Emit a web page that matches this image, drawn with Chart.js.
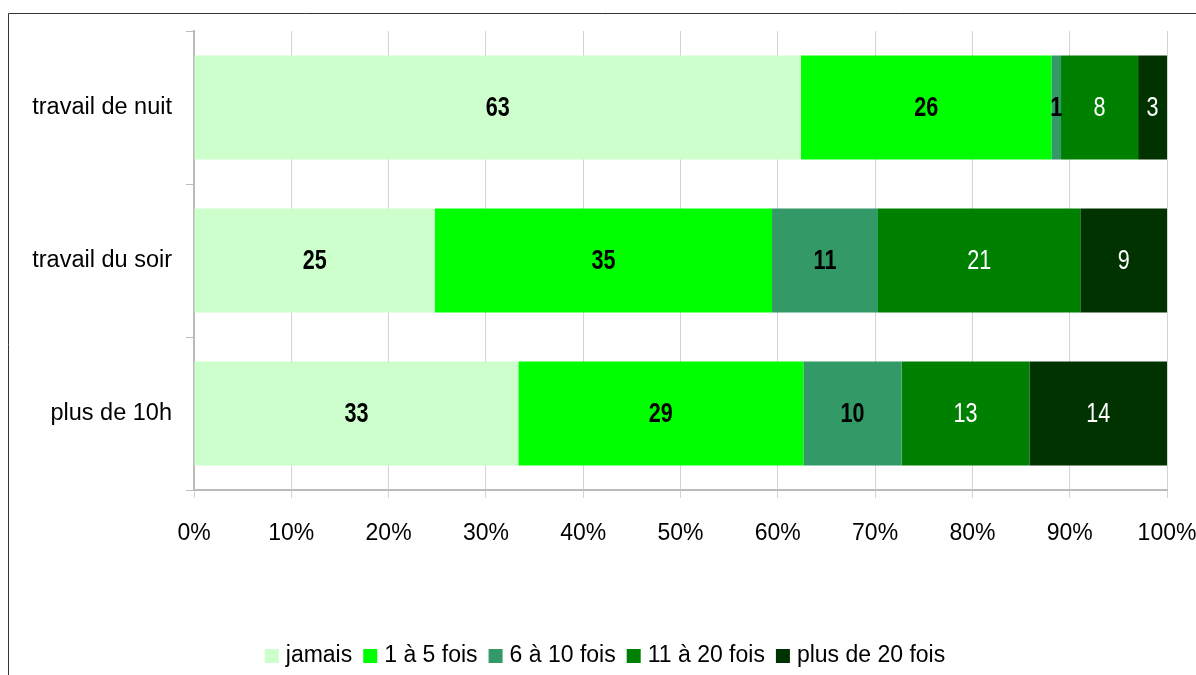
<!DOCTYPE html>
<html lang="fr">
<head>
    <meta charset="UTF-8">
    <title>Fréquence des horaires atypiques</title>
    <script src="https://cdn.jsdelivr.net/npm/chart.js"></script>
    <style>
        html, body { margin: 0; padding: 0; background: #fff; }
        #wrap { width: 1196px; height: 675px; position: relative; overflow: hidden; }
    </style>
</head>
<body>
<div id="wrap">
    <canvas id="chart" width="1196" height="675"></canvas>
</div>

<script>
    const categories = ["travail de nuit", "travail du soir", "plus de 10h"];
    const seriesNames = ["jamais", "1 à 5 fois", "6 à 10 fois", "11 à 20 fois", "plus de 20 fois"];
    const jamais = [63, 25, 33];
    const unACinq = [26, 35, 29];
    const sixADix = [1, 11, 10];
    const onzeAVingt = [8, 21, 13];
    const plusDeVingt = [3, 9, 14];
    const xTicks = [0, 10, 20, 30, 40, 50, 60, 70, 80, 90, 100];

    const colors = ['#CCFFCC', '#00FF00', '#339966', '#008000', '#003300'];
    const labelColors = ['#000', '#000', '#000', '#fff', '#fff'];
    const raw = [jamais, unACinq, sixADix, onzeAVingt, plusDeVingt];

    // 100% empilé : chaque barre est ramenée au total de la ligne
    const totals = categories.map((c, i) => raw.reduce((s, arr) => s + arr[i], 0));

    const datasets = raw.map((arr, k) => ({
        label: seriesNames[k],
        data: arr.map((v, i) => v / totals[i] * 100),
        rawValues: arr,
        backgroundColor: colors[k],
        borderWidth: 0,
        barPercentage: 0.68,
        categoryPercentage: 1
    }));

    const FONT = '"Liberation Sans", Arial, sans-serif';

    // étiquettes de valeur, police étroite (imitée par un étirement horizontal)
    const valueLabels = {
        id: 'valueLabels',
        afterDatasetsDraw(chart) {
            const ctx = chart.ctx;
            chart.data.datasets.forEach((ds, k) => {
                const meta = chart.getDatasetMeta(k);
                meta.data.forEach((bar, i) => {
                    ctx.save();
                    ctx.translate((bar.x + bar.base) / 2, bar.y + 1);
                    ctx.scale(0.8, 1);
                    ctx.textAlign = 'center';
                    ctx.textBaseline = 'middle';
                    ctx.fillStyle = labelColors[k];
                    ctx.font = (k < 3 ? 'bold ' : '') + '27px ' + FONT;
                    ctx.fillText(ds.rawValues[i], 0, 0);
                    ctx.restore();
                });
            });
        }
    };

    // légende dessinée à partir des jeux de données
    const bottomLegend = {
        id: 'bottomLegend',
        afterDraw(chart) {
            const ctx = chart.ctx;
            ctx.save();
            ctx.font = '23px ' + FONT;
            ctx.textBaseline = 'middle';
            const box = 14, gap = 7, spacing = 11;
            const items = chart.data.datasets.map(ds => ({
                text: ds.label, color: ds.backgroundColor, w: ctx.measureText(ds.label).width
            }));
            const total = items.reduce((s, it) => s + box + gap + it.w, 0) + spacing * (items.length - 1);
            let x = 605 - total / 2;
            const y = 656;
            items.forEach(it => {
                ctx.fillStyle = it.color;
                ctx.fillRect(x, y - box / 2, box, box);
                ctx.fillStyle = '#000';
                ctx.fillText(it.text, x + box + gap, y);
                x += box + gap + it.w + spacing;
            });
            ctx.restore();
        }
    };

    const frame = {
        id: 'frame',
        beforeDraw(chart) {
            const ctx = chart.ctx;
            ctx.save();
            ctx.strokeStyle = '#333';
            ctx.lineWidth = 1;
            ctx.beginPath();
            ctx.moveTo(8.5, 700);
            ctx.lineTo(8.5, 13.5);
            ctx.lineTo(1200, 13.5);
            ctx.stroke();
            ctx.restore();
        }
    };

    new Chart(document.getElementById('chart').getContext('2d'), {
        type: 'bar',
        data: { labels: categories, datasets: datasets },
        plugins: [frame, valueLabels, bottomLegend],
        options: {
            indexAxis: 'y',
            responsive: false,
            animation: false,
            layout: { padding: { top: 31, right: 29, left: 0, bottom: 0 } },
            scales: {
                x: {
                    stacked: true,
                    min: 0,
                    max: 100,
                    afterBuildTicks(scale) {
                        scale.ticks = xTicks.map(v => ({ value: v }));
                    },
                    afterFit(scale) {
                        scale.height = 185;
                        scale.paddingLeft = 0;
                        scale.paddingRight = 0;
                    },
                    ticks: {
                        callback: v => v + '%',
                        color: '#000',
                        font: { family: FONT, size: 23 },
                        padding: 22,
                        maxRotation: 0
                    },
                    grid: { color: '#d4d4d4', tickLength: 8 },
                    border: { color: '#bbb', width: 2 }
                },
                y: {
                    stacked: true,
                    afterFit(scale) {
                        scale.width = 194;
                        scale.paddingTop = 0;
                        scale.paddingBottom = 0;
                    },
                    ticks: {
                        color: '#000',
                        font: { family: FONT, size: 23.5 },
                        padding: 14
                    },
                    grid: { drawOnChartArea: false, offset: true, color: '#bbb', tickLength: 8 },
                    border: { color: '#bbb', width: 2 }
                }
            },
            plugins: {
                legend: { display: false },
                tooltip: { enabled: false }
            }
        }
    });
</script>
</body>
</html>
